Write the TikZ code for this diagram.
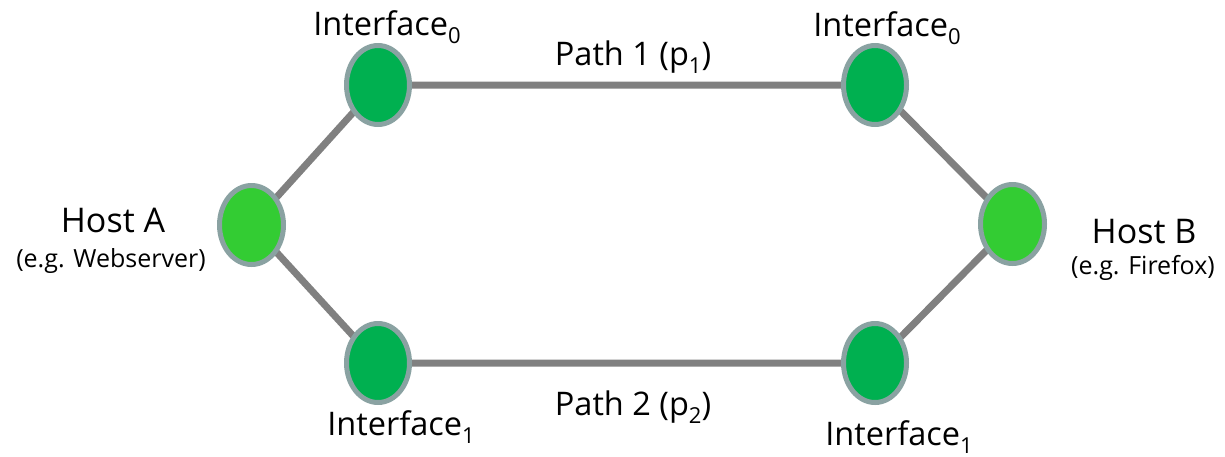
\documentclass[tikz,border=0pt]{standalone}
\usepackage{fontspec}
\setmainfont{Open Sans}
\usetikzlibrary{shapes.geometric,backgrounds}
\definecolor{rimgray}{RGB}{138,162,162}
\definecolor{ifgreen}{RGB}{0,176,80}
\definecolor{hostgreen}{RGB}{51,204,51}
\definecolor{linkgray}{RGB}{128,128,128}
\newcommand\lowsub[1]{\raisebox{-0.25em}{\fontsize{22}{22}\selectfont #1}}
\tikzset{
  ifnode/.style={ellipse, draw=rimgray, line width=5pt, fill=ifgreen, inner sep=0pt, minimum width=63pt, minimum height=79pt},
  hostnode/.style={ellipse, draw=rimgray, line width=5pt, fill=hostgreen, inner sep=0pt, minimum width=64pt, minimum height=79pt},
  link/.style={draw=linkgray, line width=7pt},
  lbl/.style={inner sep=0pt, anchor=base, font=\fontsize{32.5}{36}\selectfont},
  hostlbl/.style={inner sep=0pt, anchor=base, font=\fontsize{34}{38}\selectfont},
  sublbl/.style={inner sep=0pt, anchor=base, font=\fontsize{25}{28}\selectfont}
}
\begin{document}
\begin{tikzpicture}[x=1pt,y=-1pt]
\useasboundingbox (0,0) rectangle (1225,456);
\node[hostnode] (hA) at (251.5,225) {};
\node[hostnode] (hB) at (1012.5,224) {};
\node[ifnode] (i0L) at (378,85) {};
\node[ifnode] (i1L) at (378,363) {};
\node[ifnode] (i0R) at (875,85) {};
\node[ifnode] (i1R) at (875,363) {};
\begin{scope}[on background layer]
\draw[link] (hA.center) -- (i0L.center) -- (i0R.center) -- (hB.center);
\draw[link] (hA.center) -- (i1L.center) -- (i1R.center) -- (hB.center);
\end{scope}
\node[lbl] (t0L) at (387,35) {Interface\lowsub{0}};
\node[lbl] (t0R) at (887,36) {Interface\lowsub{0}};
\node[lbl] (t1L) at (401,435) {Interface\lowsub{1}};
\node[lbl] (t1R) at (899,445) {Interface\lowsub{1}};
\node[lbl] (p1) at (633,65) {Path 1 (p\lowsub{1})};
\node[lbl] (p2) at (633,415) {Path 2 (p\lowsub{2})};
\node[hostlbl] (tA) at (113,232) {Host A};
\node[sublbl] (sA) at (111,267) {(e.g. Webserver)};
\node[hostlbl] (tB) at (1144,243) {Host B};
\node[sublbl] (sB) at (1143,274) {(e.g. Firefox)};
\end{tikzpicture}
\end{document}
